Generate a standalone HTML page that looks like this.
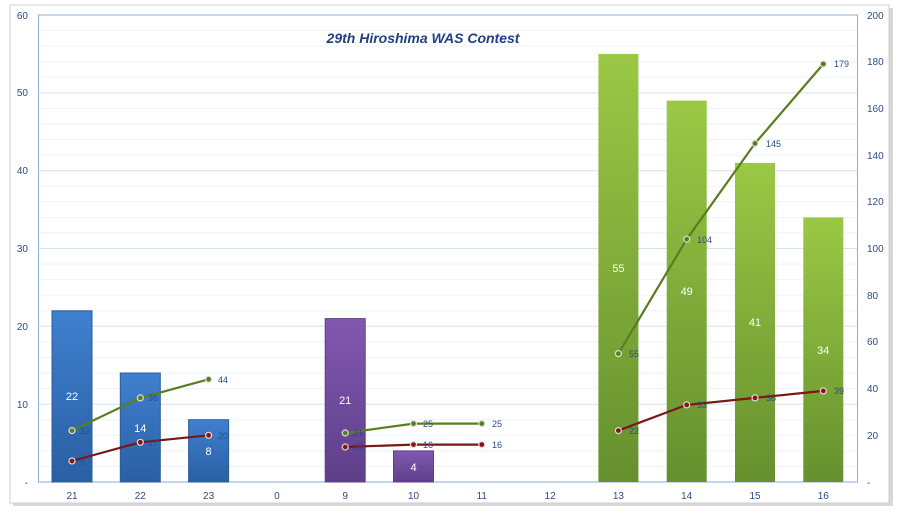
<!DOCTYPE html>
<html><head><meta charset="utf-8"><style>
body{margin:0;background:#fff;width:900px;height:513px;overflow:hidden;font-family:"Liberation Sans",sans-serif}
</style></head><body>
<svg width="900" height="513" viewBox="0 0 900 513" xmlns="http://www.w3.org/2000/svg" font-family="Liberation Sans, sans-serif">
<defs>
<linearGradient id="gb" x1="0" y1="0" x2="0" y2="1"><stop offset="0" stop-color="#3f80cf"/><stop offset="1" stop-color="#2a5fa3"/></linearGradient>
<linearGradient id="gp" x1="0" y1="0" x2="0" y2="1"><stop offset="0" stop-color="#8258b0"/><stop offset="1" stop-color="#5e3f8a"/></linearGradient>
<linearGradient id="gg" x1="0" y1="0" x2="0" y2="1"><stop offset="0" stop-color="#9bc845"/><stop offset="1" stop-color="#66902e"/></linearGradient>
</defs>
<rect x="13" y="8" width="880" height="498" fill="#d8d8d8"/>
<rect x="10" y="5" width="879" height="498" fill="#fff" stroke="#cfcfcf"/>
<g stroke="#eef3f8" stroke-width="1">
<line x1="38" x2="858" y1="466.4" y2="466.4"/><line x1="38" x2="858" y1="450.9" y2="450.9"/><line x1="38" x2="858" y1="435.3" y2="435.3"/><line x1="38" x2="858" y1="419.7" y2="419.7"/>
<line x1="38" x2="858" y1="388.6" y2="388.6"/><line x1="38" x2="858" y1="373.0" y2="373.0"/><line x1="38" x2="858" y1="357.5" y2="357.5"/><line x1="38" x2="858" y1="341.9" y2="341.9"/>
<line x1="38" x2="858" y1="310.8" y2="310.8"/><line x1="38" x2="858" y1="295.2" y2="295.2"/><line x1="38" x2="858" y1="279.6" y2="279.6"/><line x1="38" x2="858" y1="264.1" y2="264.1"/>
<line x1="38" x2="858" y1="233.0" y2="233.0"/><line x1="38" x2="858" y1="217.4" y2="217.4"/><line x1="38" x2="858" y1="201.8" y2="201.8"/><line x1="38" x2="858" y1="186.2" y2="186.2"/>
<line x1="38" x2="858" y1="155.1" y2="155.1"/><line x1="38" x2="858" y1="139.5" y2="139.5"/><line x1="38" x2="858" y1="124.0" y2="124.0"/><line x1="38" x2="858" y1="108.4" y2="108.4"/>
<line x1="38" x2="858" y1="77.3" y2="77.3"/><line x1="38" x2="858" y1="61.7" y2="61.7"/><line x1="38" x2="858" y1="46.1" y2="46.1"/><line x1="38" x2="858" y1="30.6" y2="30.6"/>
</g>
<g stroke="#d6e3f3" stroke-width="1">
<line x1="38" x2="858" y1="404.2" y2="404.2"/><line x1="38" x2="858" y1="326.3" y2="326.3"/><line x1="38" x2="858" y1="248.5" y2="248.5"/><line x1="38" x2="858" y1="170.7" y2="170.7"/><line x1="38" x2="858" y1="92.9" y2="92.9"/>
</g>
<g stroke="#8aaedc" fill="none">
<line x1="38" y1="15" x2="858" y2="15"/><line x1="38.5" y1="15" x2="38.5" y2="482"/><line x1="857.5" y1="15" x2="857.5" y2="482"/><line x1="38" y1="482" x2="858" y2="482"/>
</g>
<text x="423" y="43" text-anchor="middle" font-size="14" font-weight="bold" font-style="italic" fill="#1f3f86">29th Hiroshima  WAS Contest</text>
<g font-size="10" fill="#2a4d86" text-anchor="end">
<text x="28" y="19">60</text><text x="28" y="96">50</text><text x="28" y="174">40</text><text x="28" y="252">30</text><text x="28" y="330">20</text><text x="28" y="408">10</text><text x="28" y="486">-</text>
</g>
<g font-size="10" fill="#2a4d86" text-anchor="start">
<text x="867" y="19">200</text><text x="867" y="65">180</text><text x="867" y="112">160</text><text x="867" y="159">140</text><text x="867" y="205">120</text><text x="867" y="252">100</text><text x="867" y="299">80</text><text x="867" y="345">60</text><text x="867" y="392">40</text><text x="867" y="439">20</text><text x="867" y="486">-</text>
</g>
<g font-size="10" fill="#2a4d86" text-anchor="middle">
<text x="72" y="499">21</text><text x="140.3" y="499">22</text><text x="208.6" y="499">23</text><text x="276.9" y="499">0</text><text x="345.2" y="499">9</text><text x="413.5" y="499">10</text><text x="481.8" y="499">11</text><text x="550.1" y="499">12</text><text x="618.4" y="499">13</text><text x="686.7" y="499">14</text><text x="755" y="499">15</text><text x="823.3" y="499">16</text>
</g>
<g stroke-width="1">
<rect x="52" y="310.8" width="40" height="171.2" fill="url(#gb)" stroke="#2a5c9c"/>
<rect x="120.3" y="373" width="40" height="109" fill="url(#gb)" stroke="#2a5c9c"/>
<rect x="188.6" y="419.7" width="40" height="62.3" fill="url(#gb)" stroke="#2a5c9c"/>
<rect x="325.2" y="318.6" width="40" height="163.4" fill="url(#gp)" stroke="#5e3f8a"/>
<rect x="393.5" y="450.9" width="40" height="31.1" fill="url(#gp)" stroke="#5e3f8a"/>
<rect x="598.4" y="53.9" width="40" height="428.1" fill="url(#gg)"/>
<rect x="666.7" y="100.6" width="40" height="381.4" fill="url(#gg)"/>
<rect x="735" y="162.9" width="40" height="319.1" fill="url(#gg)"/>
<rect x="803.3" y="217.4" width="40" height="264.6" fill="url(#gg)"/>
</g>
<g font-size="11" fill="#fff" text-anchor="middle">
<text x="72" y="400">22</text><text x="140.3" y="432">14</text><text x="208.6" y="455">8</text><text x="345.2" y="404">21</text><text x="413.5" y="471">4</text><text x="618.4" y="272">55</text><text x="686.7" y="295">49</text><text x="755" y="326">41</text><text x="823.3" y="354">34</text>
</g>
<g fill="none" stroke-width="2.2">
<polyline stroke="#5a7d1e" points="72,430.6 140.3,397.9 208.6,379.3"/>
<polyline stroke="#5a7d1e" points="345.2,433 413.5,423.6 481.8,423.6"/>
<polyline stroke="#5a7d1e" points="618.4,353.6 686.7,239.2 755,143.4 823.3,64"/>
<polyline stroke="#7a1616" points="72,461 140.3,442.3 208.6,435.3"/>
<polyline stroke="#7a1616" points="345.2,447 413.5,444.6 481.8,444.6"/>
<polyline stroke="#7a1616" points="618.4,430.6 686.7,404.9 755,397.9 823.3,390.9"/>
</g>
<g stroke="#ddd" stroke-width="1.2" fill="#5a7d1e">
<circle cx="72" cy="430.6" r="3"/><circle cx="140.3" cy="397.9" r="3"/><circle cx="208.6" cy="379.3" r="3"/>
<circle cx="345.2" cy="433" r="3"/><circle cx="413.5" cy="423.6" r="3"/><circle cx="481.8" cy="423.6" r="3"/>
<circle cx="618.4" cy="353.6" r="3"/><circle cx="686.7" cy="239.2" r="3"/><circle cx="755" cy="143.4" r="3"/><circle cx="823.3" cy="64" r="3"/>
</g>
<g stroke="#ddd" stroke-width="1.2" fill="#8a1212">
<circle cx="72" cy="461" r="3"/><circle cx="140.3" cy="442.3" r="3"/><circle cx="208.6" cy="435.3" r="3"/>
<circle cx="345.2" cy="447" r="3"/><circle cx="413.5" cy="444.6" r="3"/><circle cx="481.8" cy="444.6" r="3"/>
<circle cx="618.4" cy="430.6" r="3"/><circle cx="686.7" cy="404.9" r="3"/><circle cx="755" cy="397.9" r="3"/><circle cx="823.3" cy="390.9" r="3"/>
</g>
<g font-size="9" fill="#2a4d86">
<text x="80" y="434">22</text><text x="148" y="401">36</text><text x="218" y="383">44</text>
<text x="353" y="436">21</text><text x="423" y="427">25</text><text x="492" y="427">25</text>
<text x="629" y="357">55</text><text x="697" y="243">104</text><text x="766" y="147">145</text><text x="834" y="67">179</text>
<text x="80" y="465">9</text><text x="148" y="446">17</text><text x="218" y="439">20</text>
<text x="353" y="450">15</text><text x="423" y="448">16</text><text x="492" y="448">16</text>
<text x="629" y="434">22</text><text x="697" y="408">33</text><text x="766" y="401">36</text><text x="834" y="394">39</text>
</g>
</svg>
</body></html>
